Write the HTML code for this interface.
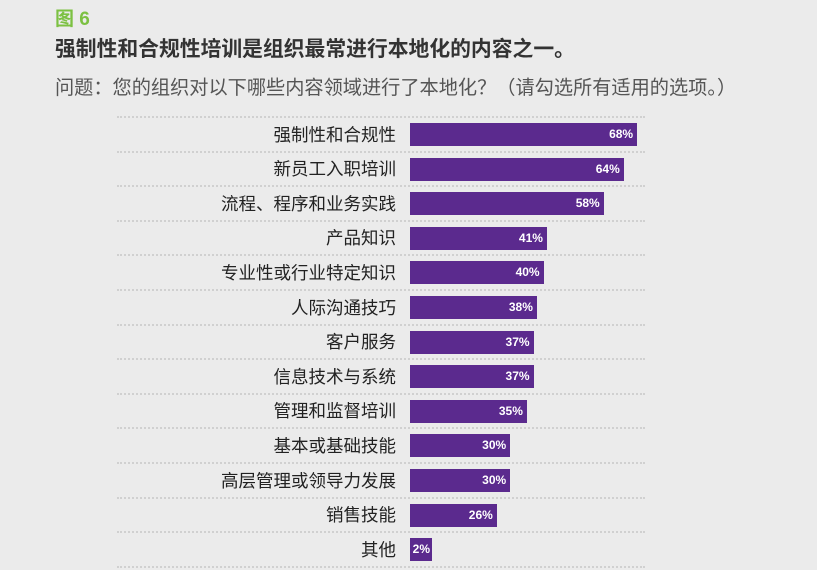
<!DOCTYPE html>
<html><head><meta charset="utf-8"><style>
body{margin:0;width:817px;height:570px;background:#ebebeb;font-family:"Liberation Sans","Noto Sans CJK SC",sans-serif;position:relative;overflow:hidden}
.a{position:absolute;white-space:nowrap}
.g{position:absolute;left:117px;width:528px;border-top:2px dotted #d0d0d0}
.l{position:absolute;right:421px;font-size:17.5px;color:#222;line-height:22px}
.b{position:absolute;left:410px;height:23px;background:#5b2a8e;color:#fff;font-size:12px;font-weight:bold;line-height:23px;text-align:right;box-sizing:border-box;padding-right:4px}
</style></head><body>
<div class="a" style="left:55px;top:4px;font-size:19px;font-weight:bold;color:#7cc142">图 6</div>
<div class="a" style="left:55px;top:32px;font-size:20.8px;font-weight:bold;color:#333">强制性和合规性培训是组织最常进行本地化的内容之一。</div>
<div class="a" style="left:55px;top:72px;font-size:19.2px;color:#555">问题：您的组织对以下哪些内容领域进行了本地化？（请勾选所有适用的选项。）</div>
<div id="c"></div>
<script>
var d=[["强制性和合规性",68],["新员工入职培训",64],["流程、程序和业务实践",58],["产品知识",41],["专业性或行业特定知识",40],["人际沟通技巧",38],["客户服务",37],["信息技术与系统",37],["管理和监督培训",35],["基本或基础技能",30],["高层管理或领导力发展",30],["销售技能",26],["其他",2]];
var h='';
for(var i=0;i<d.length;i++){var c=134.5+34.6*i;
h+='<div class="g" style="top:'+(c-18.5)+'px"></div>';
h+='<div class="l" style="top:'+(c-11)+'px">'+d[i][0]+'</div>';
var w=Math.max(22,d[i][1]*3.34);
h+='<div class="b" style="top:'+(c-11.5)+'px;width:'+w+'px;'+(d[i][1]<5?'padding-right:2px;':'')+'">'+d[i][1]+'%</div>';}
h+='<div class="g" style="top:'+(134.5+34.6*13-18.5)+'px"></div>';
document.getElementById('c').innerHTML=h;
</script>
</body></html>
